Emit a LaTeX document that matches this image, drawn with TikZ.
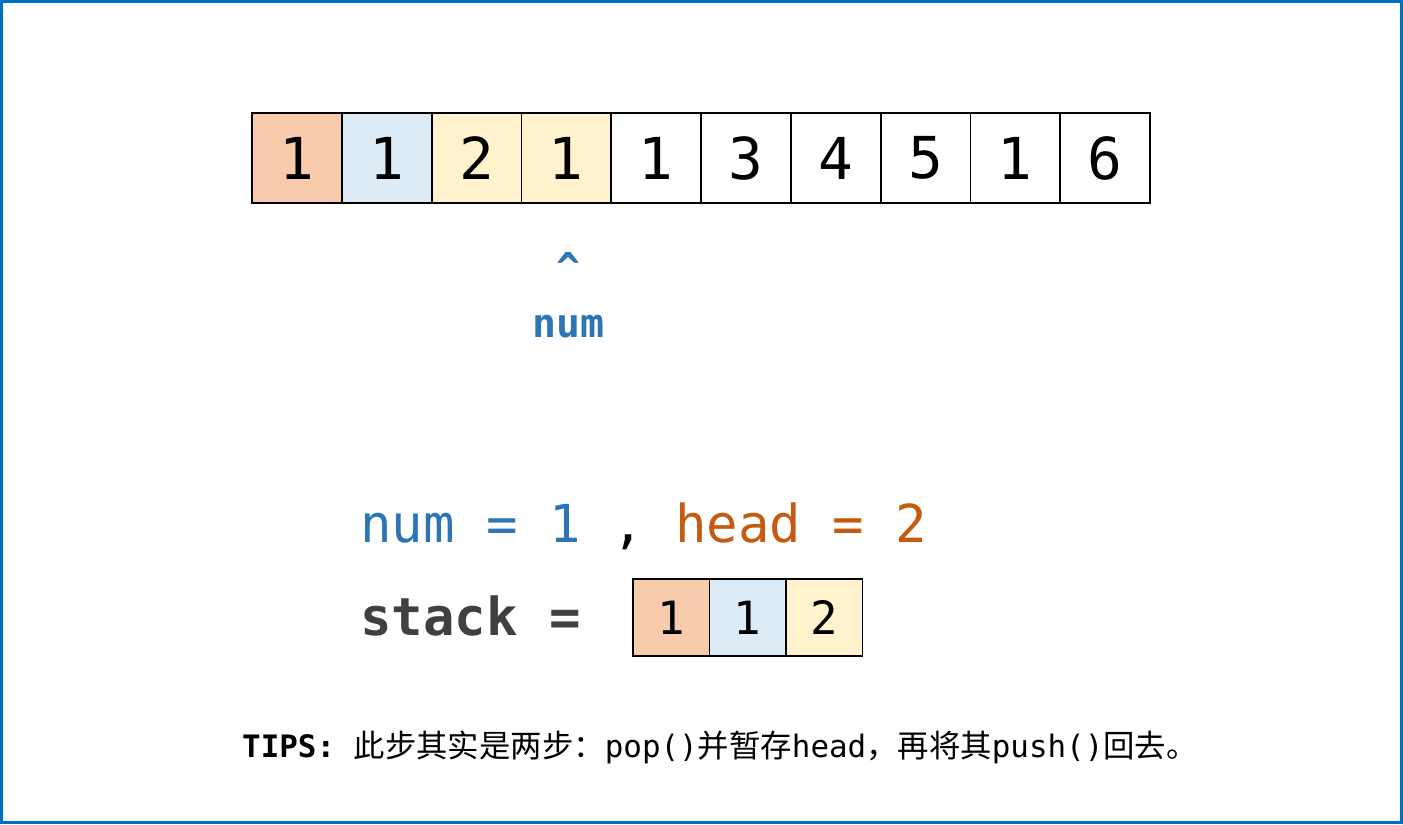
\documentclass[tikz,border=0pt]{standalone}
\usepackage{fontspec}
\setmonofont{DejaVu Sans Mono}
\newfontfamily\cjk{Noto Sans CJK SC}
\definecolor{frameblue}{HTML}{0070C0}
\definecolor{cOrange}{HTML}{F8CBAD}
\definecolor{cBlue}{HTML}{DDEBF7}
\definecolor{cYellow}{HTML}{FFF2CC}
\definecolor{tBlue}{HTML}{2E75B6}
\definecolor{tOrange}{HTML}{C55A11}
\definecolor{tGrey}{HTML}{404040}
\tikzset{
  cell/.style={draw=black, line width=1.8bp, minimum width=89.8bp, minimum height=90bp, inner sep=0pt,
    font=\fontsize{58}{58}\selectfont\ttfamily},
  scell/.style={draw=black, line width=1.8bp, minimum width=76.5bp, minimum height=77bp, inner sep=0pt,
    font=\fontsize{46}{46}\selectfont\ttfamily},
  lbl/.style={inner sep=0pt, anchor=base west},
}
\begin{document}
\begin{tikzpicture}[x=1bp,y=-1bp]
\useasboundingbox (0,0) rectangle (1403,824);
\draw[frameblue, line width=3bp] (1.5,1.5) rectangle (1401.5,822.5);
% main array
\foreach \v/\c [count=\i] in {1/cOrange,1/cBlue,2/cYellow,1/cYellow,1/white,3/white,4/white,5/white,1/white,6/white}{
  \node[cell, fill=\c] (a\i) at ({252+89.8*(\i-0.5)},158) {\v};
}
% pointer
\node[inner sep=0pt, anchor=base, text=tBlue, font=\fontsize{40}{40}\selectfont\ttfamily\bfseries] (caret) at (568,281) {\textasciicircum};
\node[inner sep=0pt, anchor=base, text=tBlue, font=\fontsize{40}{40}\selectfont\ttfamily\bfseries] (numlbl) at (568,337) {num};
% state line
\node[lbl, font=\fontsize{52.5}{52.5}\selectfont\ttfamily] (state) at (360,542)
  {\textcolor{tBlue}{num = 1} , \textcolor{tOrange}{head = 2}};
\node[lbl, text=tGrey, font=\fontsize{52.5}{52.5}\selectfont\ttfamily\bfseries] (stack) at (360,635) {stack =};
% stack cells
\foreach \v/\c [count=\i] in {1/cOrange,1/cBlue,2/cYellow}{
  \node[scell, fill=\c] (s\i) at ({633+76.5*(\i-0.5)},617.5) {\v};
}
% tips
\node[lbl, font=\fontsize{31}{31}\selectfont\ttfamily] (tips) at (242,757)
  {\textbf{TIPS:} {\cjk\fontsize{31.5}{31.5}\selectfont 此步其实是两步：}pop(){\cjk\fontsize{31.5}{31.5}\selectfont 并暂存}head{\cjk\fontsize{31.5}{31.5}\selectfont ，再将其}push(){\cjk\fontsize{31.5}{31.5}\selectfont 回去。}};
\end{tikzpicture}
\end{document}
